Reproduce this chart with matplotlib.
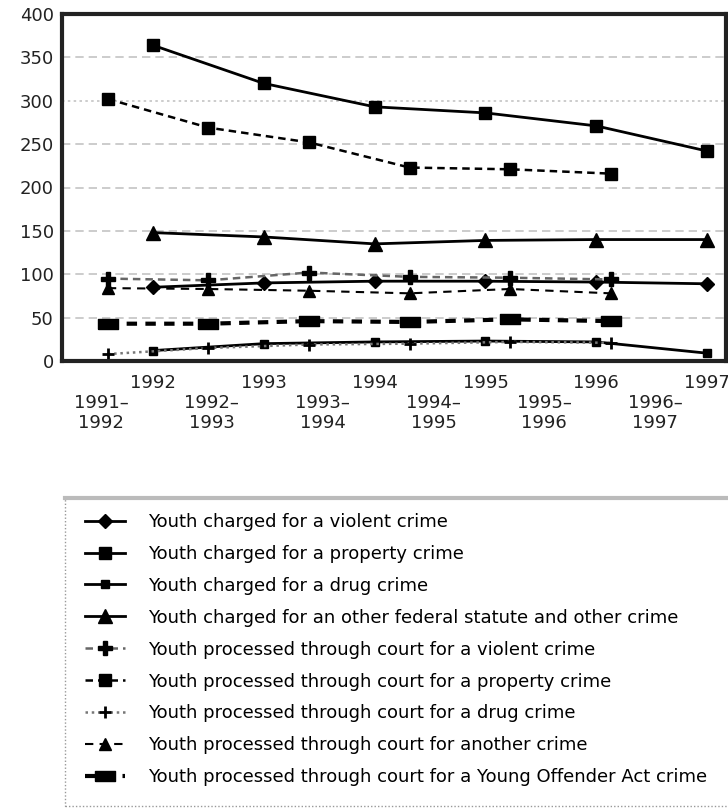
import matplotlib
matplotlib.use("Agg")
import matplotlib.pyplot as plt
import numpy as np
from matplotlib.patches import Rectangle
from matplotlib.lines import Line2D

# calendar years (youth charged) and fiscal years (youth processed through court)
years = ['1992', '1993', '1994', '1995', '1996', '1997']
fiscal = ['1991–\n1992', '1992–\n1993', '1993–\n1994', '1994–\n1995', '1995–\n1996', '1996–\n1997']

charged_violent = [85, 90, 92, 92, 91, 89]
charged_property = [364, 320, 293, 286, 271, 242]
charged_drug = [12, 20, 22, 23, 22, 9]
charged_other = [148, 143, 135, 139, 140, 140]

proc_violent = [95, 93, 102, 97, 96, 94]
proc_property = [302, 269, 252, 223, 221, 216]
proc_drug = [8, 15, 19, 20, 22, 21]
proc_other = [84, 83, 81, 78, 83, 78]
proc_yoa = [43, 43, 46, 45, 48, 46]

labels = [
    'Youth charged for a violent crime',
    'Youth charged for a property crime',
    'Youth charged for a drug crime',
    'Youth charged for an other federal statute and other crime',
    'Youth processed through court for a violent crime',
    'Youth processed through court for a property crime',
    'Youth processed through court for a drug crime',
    'Youth processed through court for another crime',
    'Youth processed through court for a Young Offender Act crime',
]

fig = plt.figure(figsize=(7.28, 8.09), dpi=100)
ax = fig.add_axes([62 / 728, 1 - 361 / 809, 664 / 728, 347 / 809])

xc = np.arange(len(years))
xp = -0.406 + 0.907 * np.arange(len(fiscal))
xf = -0.469 + 1.0 * np.arange(len(fiscal))

# grid
for v in range(50, 400, 50):
    ls = (0, (1.5, 2)) if v == 300 else (0, (5, 3))
    ax.axhline(v, color='#c4c4c4', lw=1.2, ls=ls, zorder=0)

wide = [(-2, -1), (2, -1), (2, 1), (-2, 1), (-2, -1)]

ax.plot(xc, charged_violent, color='black', lw=2, marker='D', ms=7)
ax.plot(xc, charged_property, color='black', lw=2, marker='s', ms=9)
ax.plot(xc, charged_drug, color='black', lw=2, marker='s', ms=6)
ax.plot(xc, charged_other, color='black', lw=2, marker='^', ms=10)
ax.plot(xp, proc_violent, color='#666666', lw=1.8, ls=(0, (3, 2)), marker='P', ms=10, mfc='black', mec='black')
ax.plot(xp, proc_property, color='black', lw=1.8, ls=(0, (3, 2)), marker='s', ms=8)
ax.plot(xp, proc_drug, color='#777777', lw=1.8, ls=(0, (1, 1.5)), marker='+', ms=8, mew=2, mec='black')
ax.plot(xp, proc_other, color='black', lw=1.5, ls=(0, (4, 3)), marker='^', ms=9)
ax.plot(xp, proc_yoa, color='black', lw=3, ls=(0, (2.5, 2)), marker=wide, ms=14, mfc='black', mec='black')

ax.set_xlim(-0.82, 5.17)
ax.set_ylim(0, 400)
ax.set_yticks(range(0, 401, 50))
ax.set_xticks(xc, years)
ax.set_xticks(xf, fiscal, minor=True)
ax.tick_params(axis='both', which='both', length=0, labelsize=13, labelcolor='#222222')
ax.tick_params(axis='y', pad=6)
ax.tick_params(axis='x', which='major', pad=9)
ax.tick_params(axis='x', which='minor', pad=24)
for t in ax.get_xticklabels(minor=True):
    t.set_linespacing(1.15)
for s in ax.spines.values():
    s.set_linewidth(3)
    s.set_color('#222222')

# legend
fig.patches.append(Rectangle((65 / 728, 1 - 806 / 809), 0.95, (806 - 497) / 809,
                             transform=fig.transFigure, fill=False,
                             edgecolor='#999999', lw=1, ls=(0, (1, 1.5))))
fig.lines.append(Line2D([65 / 728, 1.0], [1 - 498 / 809, 1 - 498 / 809],
                        transform=fig.transFigure, color='#bbbbbb', lw=3))
fig.legend(ax.get_lines()[7:], labels, loc='upper left',
           bbox_to_anchor=(85 / 728, 1 - 513 / 809), frameon=False,
           fontsize=13, handlelength=2.2, handletextpad=1.3,
           labelspacing=0.77, borderpad=0, borderaxespad=0)

fig.savefig('out.png', dpi=100)
